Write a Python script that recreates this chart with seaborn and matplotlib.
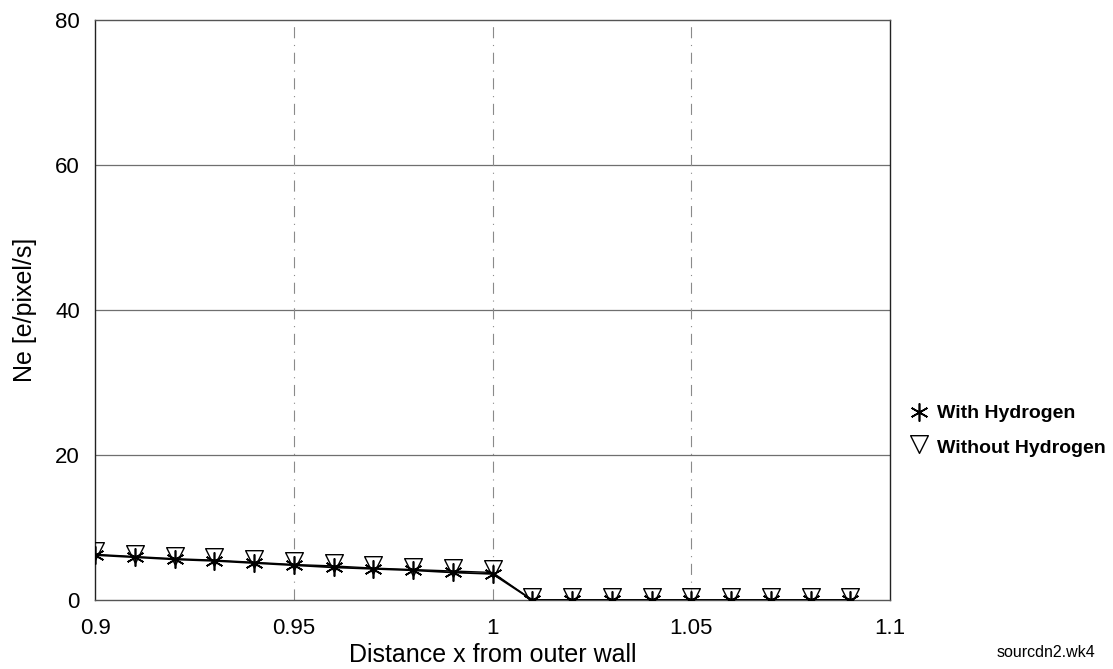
import numpy as np
import pandas as pd
import matplotlib
matplotlib.use("Agg")
import matplotlib.pyplot as plt
from matplotlib.path import Path
import seaborn as sns

x_vals = [0.90, 0.91, 0.92, 0.93, 0.94, 0.95, 0.96, 0.97, 0.98, 0.99, 1.00,
          1.01, 1.02, 1.03, 1.04, 1.05, 1.06, 1.07, 1.08, 1.09]
with_h = [6.2, 5.9, 5.6, 5.4, 5.1, 4.8, 4.5, 4.3, 4.1, 3.8, 3.6,
          0, 0, 0, 0, 0, 0, 0, 0, 0]
without_h = [6.3, 6.0, 5.7, 5.5, 5.2, 4.9, 4.7, 4.4, 4.2, 4.0, 3.8,
             0, 0, 0, 0, 0, 0, 0, 0, 0]
x_ticks = [0.9, 0.95, 1.0, 1.05, 1.1]
x_tick_labels = ["0.9", "0.95", "1", "1.05", "1.1"]
y_ticks = [0, 20, 40, 60, 80]

sns.set_style("white")
plt.rcParams['font.family'] = ['Liberation Sans', 'DejaVu Sans']
plt.rcParams['text.color'] = 'black'

fig = plt.figure(figsize=(11.13, 6.69), dpi=100)
ax = fig.add_axes([0.0854, 0.1031, 0.7143, 0.8670])

df = pd.DataFrame({"x": x_vals, "with": with_h, "without": without_h})

# triangle sitting mostly above its data point
tri = Path([(-0.75, 1.0), (0.75, 1.0), (0.0, -0.5), (-0.75, 1.0)],
           [Path.MOVETO, Path.LINETO, Path.LINETO, Path.CLOSEPOLY])

sns.lineplot(data=df, x="x", y="with", ax=ax, color="black", lw=1.3,
             marker=(6, 2, 0), markersize=13, markeredgewidth=1.2,
             markeredgecolor="black", label="With Hydrogen", zorder=3)
sns.lineplot(data=df, x="x", y="without", ax=ax, color="black", lw=1.0,
             marker=tri, markersize=17, markeredgewidth=1.0,
             markerfacecolor="none", markeredgecolor="black",
             label="Without Hydrogen", zorder=3)

ax.set_xlim(0.9, 1.1)
ax.set_ylim(0, 80)
ax.set_xticks(x_ticks)
ax.set_xticklabels(x_tick_labels)
ax.set_yticks(y_ticks)
ax.tick_params(axis="x", labelsize=16, length=0, pad=13, labelcolor="black")
ax.tick_params(axis="y", labelsize=16, length=0, pad=11, labelcolor="black")

for yv in [20, 40, 60]:
    ax.axhline(yv, color="#6f6f6f", lw=0.9, zorder=0)
for xv in [0.95, 1.0, 1.05]:
    ax.axvline(xv, color="#8a8a8a", lw=0.8, ls=(0, (10, 6, 1, 6)), zorder=0)

for name, s in ax.spines.items():
    s.set_color("#222222" if name in ("left", "right") else "#555555")
    s.set_linewidth(1.0)

ax.set_xlabel("Distance x from outer wall", fontsize=18, labelpad=3,
              color="black")
ax.set_ylabel("Ne [e/pixel/s]", fontsize=18, labelpad=13, color="black")

leg = ax.legend(loc="upper left", bbox_to_anchor=(0.818, 0.395),
                bbox_transform=fig.transFigure, frameon=False,
                fontsize=14, handlelength=0.9, handletextpad=0.45,
                labelspacing=0.9, borderaxespad=0, borderpad=0)
for t in leg.get_texts():
    t.set_fontweight("bold")
    t.set_color("black")
for h in leg.legend_handles:
    h.set_linestyle("none")

fig.text(0.940, 0.024, "sourcdn2.wk4", fontsize=11.5, ha="center",
         va="center", color="black")

fig.savefig("out.png", dpi=100)
